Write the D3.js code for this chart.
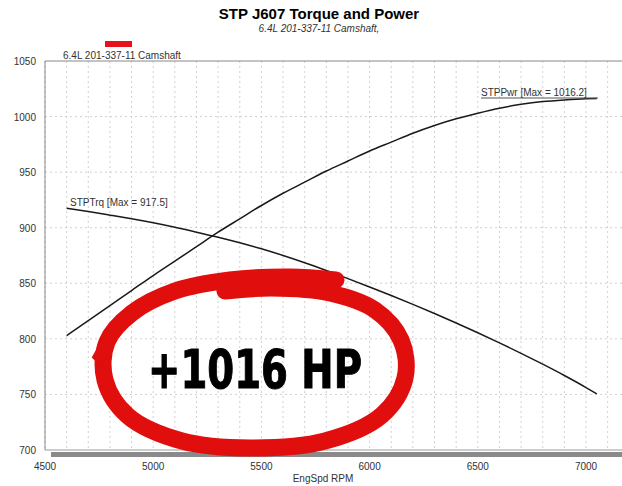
<!DOCTYPE html>
<html lang="en">
<head>
<meta charset="UTF-8">
<script src="https://d3js.org/d3.v7.min.js" charset="utf-8"></script>
<title>STP J607 Torque and Power</title>
<style>
  body { margin: 0; background: #fff; }
  text { font-family: "Liberation Sans", Arial, sans-serif; }
</style>
</head>
<body>
<div id="chart"></div>
<script>
// data
const rpm = [4600, 4700, 4800, 4900, 5000, 5100, 5200, 5300, 5400, 5500, 5600, 5700, 5800,
             5900, 6000, 6100, 6200, 6300, 6400, 6500, 6600, 6700, 6800, 6900, 7000, 7050];
const power = [803, 816.5, 830, 843.5, 857, 870, 883, 896, 908, 920, 931, 941, 951,
               960, 969, 977, 985, 992, 998, 1003, 1007.5, 1011, 1013.5, 1015, 1016, 1016.2];
const torque = [917.5, 914.5, 911.3, 908, 904.4, 900.4, 896, 891.5, 886.5, 881, 875, 868.5, 861.5,
                854.2, 846.7, 839, 831, 822.8, 814.3, 805.5, 796.4, 787, 777.2, 767, 756.2, 750.5];
const xTicks = [4500, 5000, 5500, 6000, 6500, 7000];
const yTicks = [700, 750, 800, 850, 900, 950, 1000, 1050];

const width = 622, height = 486;
const x = d3.scaleLinear().domain([4500, 7000]).range([45, 586]);
const y = d3.scaleLinear().domain([700, 1050]).range([450, 61]);

const svg = d3.select("#chart").append("svg")
  .attr("width", width).attr("height", height);

// titles
svg.append("text").attr("x", 319).attr("y", 19).attr("text-anchor", "middle")
  .style("font-size", "15px").style("font-weight", "bold").text("STP J607 Torque and Power");
svg.append("text").attr("x", 319).attr("y", 32).attr("text-anchor", "middle")
  .style("font-size", "10px").style("font-style", "italic").attr("fill", "#333")
  .text("6.4L 201-337-11 Camshaft,");

// legend
svg.append("rect").attr("x", 105).attr("y", 41).attr("width", 27).attr("height", 6).attr("fill", "#e8121b");
svg.append("text").attr("x", 63).attr("y", 59).style("font-size", "10px").attr("fill", "#333")
  .text("6.4L 201-337-11 Camshaft");

// grid
const gx = d3.range(4500, 7200, 100);
svg.append("g").selectAll("line").data(gx).join("line")
  .attr("x1", d => x(d)).attr("x2", d => x(d))
  .attr("y1", y(1050)).attr("y2", y(700))
  .attr("stroke", "#d0d0d0").attr("stroke-dasharray", "2,3");
svg.append("g").selectAll("line").data(yTicks.slice(1, -1)).join("line")
  .attr("x1", x(4500)).attr("x2", width)
  .attr("y1", d => y(d)).attr("y2", d => y(d))
  .attr("stroke", "#d0d0d0").attr("stroke-dasharray", "2,3");

// frame
svg.append("line").attr("x1", 45).attr("x2", width).attr("y1", y(1050)).attr("y2", y(1050))
  .attr("stroke", "#888");
svg.append("line").attr("x1", 45).attr("x2", 45).attr("y1", y(1050)).attr("y2", y(700))
  .attr("stroke", "#888");
svg.append("line").attr("x1", 45).attr("x2", width).attr("y1", y(700)).attr("y2", y(700))
  .attr("stroke", "#999");
svg.append("rect").attr("x", 51).attr("y", y(700) + 2).attr("width", width - 51).attr("height", 5)
  .attr("fill", "#8a8a8a");

// tick labels
svg.append("g").selectAll("text").data(yTicks).join("text")
  .attr("x", 36).attr("y", d => y(d) + 4).attr("text-anchor", "end")
  .style("font-size", "10px").attr("fill", "#333").text(d => d);
svg.append("g").selectAll("text").data(xTicks).join("text")
  .attr("x", d => x(d)).attr("y", 470).attr("text-anchor", "middle")
  .style("font-size", "10px").attr("fill", "#333").text(d => d);
svg.append("text").attr("x", 323).attr("y", 482).attr("text-anchor", "middle")
  .style("font-size", "10px").attr("fill", "#333").text("EngSpd RPM");

// curves
const line = d3.line().curve(d3.curveMonotoneX).x(d => x(d[0])).y(d => y(d[1]));
svg.append("path").datum(rpm.map((r, i) => [r, power[i]]))
  .attr("d", line).attr("fill", "none").attr("stroke", "#1a1a1a").attr("stroke-width", 1.5);
svg.append("path").datum(rpm.map((r, i) => [r, torque[i]]))
  .attr("d", line).attr("fill", "none").attr("stroke", "#1a1a1a").attr("stroke-width", 1.5);

// curve labels
svg.append("text").attr("x", 481).attr("y", 96)
  .style("font-size", "10px").attr("fill", "#333").text("STPPwr [Max = 1016.2]");
svg.append("line").attr("x1", 481).attr("x2", 598).attr("y1", 98).attr("y2", 98)
  .attr("stroke", "#555");
svg.append("text").attr("x", 70).attr("y", 206)
  .style("font-size", "10px").attr("fill", "#333").text("STPTrq [Max = 917.5]");

// red hand-drawn circle
const ring = [[336, 280], [290, 277], [230, 280], [175, 291], [132, 313], [107, 342],
              [105, 380], [128, 416], [182, 441], [250, 448], [325, 441], [382, 415],
              [405, 378], [401, 340], [375, 310], [330, 293], [272, 288], [225, 291]];
svg.append("path")
  .attr("d", d3.line().curve(d3.curveCatmullRom)(ring))
  .attr("fill", "none").attr("stroke", "#e10e0e").attr("stroke-width", 17)
  .attr("stroke-linecap", "round");
svg.append("path")
  .attr("d", d3.line()([[112, 332], [96, 360], [108, 352]]))
  .attr("fill", "none").attr("stroke", "#e10e0e").attr("stroke-width", 10);

svg.append("text").attr("x", 148).attr("y", 388)
  .attr("textLength", 214).attr("lengthAdjust", "spacingAndGlyphs")
  .style("font-family", "'DejaVu Sans Condensed', 'Liberation Sans Narrow', 'Liberation Sans', sans-serif")
  .style("font-size", "54px").style("font-weight", "bold")
  .attr("fill", "#000").attr("stroke", "#000").attr("stroke-width", 1)
  .text("+1016 HP");
</script>
</body>
</html>
